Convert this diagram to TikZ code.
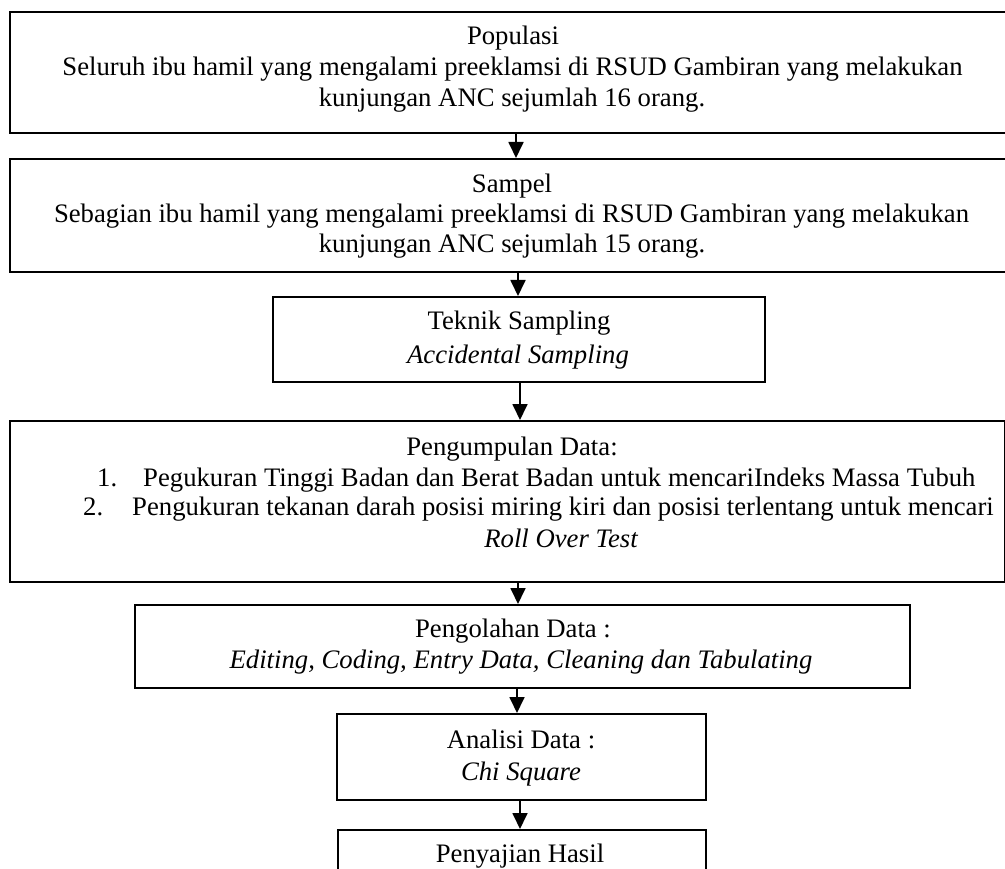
\documentclass[tikz,border=0pt]{standalone}
\usepackage{fontspec}
\setmainfont{Liberation Serif}
\usetikzlibrary{arrows.meta}
\begin{document}
\begin{tikzpicture}[x=1pt,y=-1pt,
  boxstyle/.style={draw=black,line width=1.8pt,inner sep=0pt},
  txt/.style={inner sep=0pt,anchor=base,font=\fontsize{26.7}{31}\selectfont},
  txtw/.style={inner sep=0pt,anchor=base west,font=\fontsize{26.7}{31}\selectfont},
  arr/.style={line width=1.8pt,-{Triangle[width=15pt,length=16pt]}}]
\clip (0,0) rectangle (1005,869);
\fill[white] (0,0) rectangle (1005,869);
% boxes
\node[boxstyle,minimum width=1010pt,minimum height=121pt,anchor=north west] (b1) at (9,11) {};
\node[boxstyle,minimum width=1010pt,minimum height=113pt,anchor=north west] (b2) at (9,158) {};
\node[boxstyle,minimum width=492pt,minimum height=85pt,anchor=north west] (b3) at (272,296) {};
\node[boxstyle,minimum width=994.5pt,minimum height=161pt,anchor=north west] (b4) at (9,420) {};
\node[boxstyle,minimum width=775pt,minimum height=83pt,anchor=north west] (b5) at (134,604) {};
\node[boxstyle,minimum width=369pt,minimum height=86pt,anchor=north west] (b6) at (336,713) {};
\node[boxstyle,minimum width=368pt,minimum height=80pt,anchor=north west] (b7) at (337,829) {};
% texts
\node[txt] (t1a) at (513,45) {Populasi};
\node[txt] (t1b) at (512.5,76) {Seluruh ibu hamil yang mengalami preeklamsi di RSUD Gambiran yang melakukan};
\node[txt] (t1c) at (512,107) {kunjungan ANC sejumlah 16 orang.};
\node[txt] (t2a) at (512,193) {Sampel};
\node[txt] (t2b) at (511.5,223) {Sebagian ibu hamil yang mengalami preeklamsi di RSUD Gambiran yang melakukan};
\node[txt] (t2c) at (512,253) {kunjungan ANC sejumlah 15 orang.};
\node[txt] (t3a) at (519,330) {Teknik Sampling};
\node[txt] (t3b) at (518,363) {\itshape Accidental Sampling};
\node[txt] (t4a) at (512,455) {Pengumpulan Data:};
\node[txtw] (t4n1) at (97,486) {1.};
\node[txtw] (t4b) at (143,486) {Pegukuran Tinggi Badan dan Berat Badan untuk mencariIndeks Massa Tubuh};
\node[txtw] (t4n2) at (83,515) {2.};
\node[txtw] (t4c) at (132,515) {Pengukuran tekanan darah posisi miring kiri dan posisi terlentang untuk mencari};
\node[txt] (t4d) at (561,547) {\itshape Roll Over Test};
\node[txt] (t5a) at (513,637) {Pengolahan Data :};
\node[txt] (t5b) at (521,668) {\itshape Editing, Coding, Entry Data, Cleaning dan Tabulating};
\node[txt] (t6a) at (521,748) {Analisi Data :};
\node[txt] (t6b) at (521,780) {\itshape Chi Square};
\node[txt] (t7a) at (520,862) {Penyajian Hasil};
% arrows
\draw[arr] (b1.south -| 516,0) -- (b2.north -| 516,0);
\draw[arr] (b2.south -| 518,0) -- (b3.north -| 518,0);
\draw[arr] (b3.south -| 520,0) -- (b4.north -| 520,0);
\draw[arr] (b4.south -| 518,0) -- (b5.north -| 518,0);
\draw[arr] (b5.south -| 517,0) -- (b6.north -| 517,0);
\draw[arr] (b6.south -| 520,0) -- (b7.north -| 520,0);
\end{tikzpicture}
\end{document}
